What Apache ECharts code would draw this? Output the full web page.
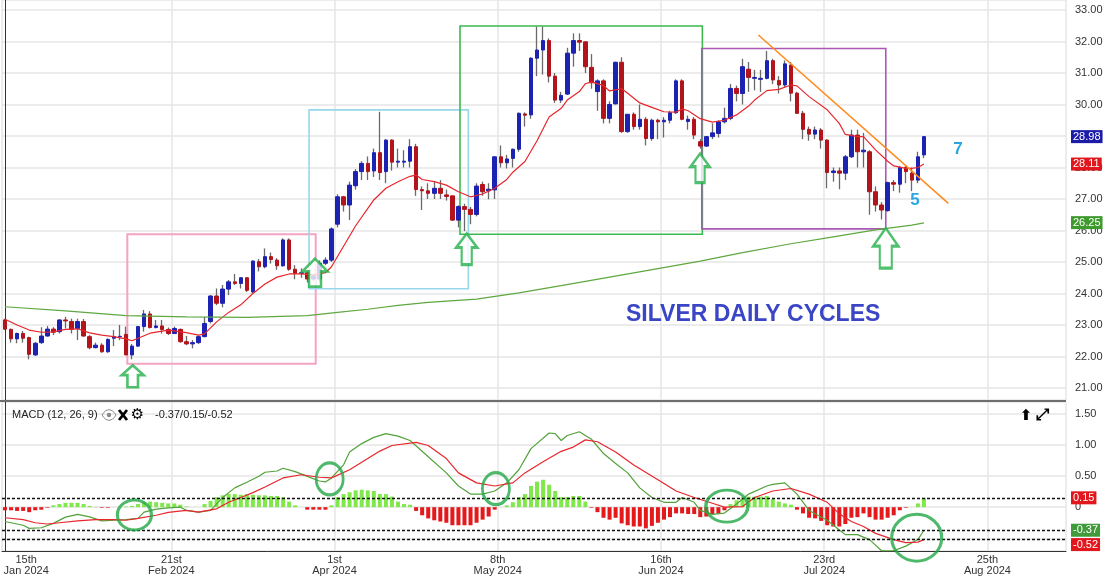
<!DOCTYPE html>
<html><head><meta charset="utf-8">
<script src="https://cdn.jsdelivr.net/npm/echarts@6.0.0/dist/echarts.min.js"></script>
<style>html,body{margin:0;padding:0;background:#fff}#c{width:1106px;height:576px}</style>
</head><body><div id="c"></div><script>
// ---------------- DATA ----------------
const slotCount = 176; // trading-day slots on the x axis (data + future space)
const xGridIdx = [0, 28, 55, 82, 109, 136, 163];
const xLabelIdx = [4, 28, 55, 82, 109, 136, 163];
const xTickLabels = ['15th\nJan 2024', '21st\nFeb 2024', '1st\nApr 2024', '8th\nMay 2024', '16th\nJun 2024', '23rd\nJul 2024', '25th\nAug 2024'];

const openP = [
23.16,22.86,22.56,22.73,22.60,22.05,22.44,22.65,22.87,22.79,
23.16,23.11,22.89,23.11,22.63,22.28,22.36,22.15,22.58,22.63,
22.70,22.05,22.33,22.95,23.35,22.92,22.97,22.86,22.73,22.86,
22.47,22.40,22.44,22.63,23.11,23.92,23.69,24.14,24.37,24.32,
24.50,24.05,25.01,24.85,25.17,25.06,24.88,25.70,24.77,24.64,
24.66,24.46,24.46,24.96,25.06,26.20,27.07,26.81,27.42,27.87,
28.13,27.89,28.47,27.87,28.87,28.17,28.17,28.20,28.66,27.30,
27.26,27.18,27.34,27.13,27.10,26.33,26.76,26.67,26.51,27.46,
27.26,27.29,28.34,28.15,28.29,28.58,29.70,29.67,31.47,31.73,
32.03,30.90,30.14,30.33,31.63,32.03,31.99,31.18,30.41,30.75,
29.56,30.02,31.34,29.14,29.69,29.30,29.53,28.92,29.50,29.45,
29.50,29.74,30.75,29.46,29.53,28.82,28.68,28.98,29.08,29.45,
29.56,30.51,30.35,31.12,30.83,30.80,30.83,31.39,30.76,30.62,
31.25,30.36,29.72,29.21,29.06,29.19,28.87,27.84,27.89,27.82,
28.34,29.03,28.50,28.50,27.23,26.81,26.63,27.52,27.47,28.00,
27.82,27.60,28.40];
const closeP = [
22.87,22.56,22.73,22.58,22.07,22.42,22.65,22.87,22.77,23.16,
23.13,22.86,23.11,22.65,22.28,22.36,22.15,22.54,22.63,22.64,
22.05,22.33,22.95,23.35,22.92,22.97,22.86,22.73,22.89,22.47,
22.40,22.44,22.63,23.05,23.92,23.69,24.14,24.37,24.32,24.50,
24.10,25.03,24.85,25.17,25.08,24.88,25.70,24.77,24.64,24.66,
24.46,24.56,24.96,25.06,26.05,27.07,26.81,27.44,27.87,28.13,
27.87,28.47,27.84,28.87,28.17,28.20,28.20,28.66,27.30,27.26,
27.18,27.34,27.18,27.08,26.33,26.76,26.67,26.51,27.41,27.23,
27.31,28.34,28.15,28.27,28.58,29.72,29.66,31.47,31.73,32.03,
30.90,30.14,30.29,31.63,32.03,31.98,31.20,30.69,30.75,29.56,
30.00,31.34,29.14,29.69,29.30,29.53,28.92,29.50,29.45,29.50,
29.74,30.75,29.53,29.53,29.03,28.68,28.98,29.10,29.45,29.56,
30.51,30.35,31.20,30.86,30.86,30.83,31.39,30.78,30.62,31.29,
30.36,29.72,29.21,29.06,29.19,28.87,27.84,27.89,27.82,28.34,
29.03,28.50,28.55,27.23,26.81,26.65,27.52,27.47,28.00,27.87,
27.60,28.34,28.98];
const lowP = [
22.84,22.44,22.42,22.44,21.91,22.02,22.40,22.63,22.68,22.73,
22.89,22.73,22.52,22.63,22.23,22.26,22.12,22.12,22.33,22.52,
22.05,21.91,22.31,22.79,22.89,22.89,22.73,22.68,22.71,22.44,
22.36,22.26,22.40,22.61,23.05,23.63,23.56,23.95,24.27,24.16,
24.05,24.00,24.70,24.80,24.95,24.75,24.85,24.72,24.45,24.50,
24.35,24.40,24.38,24.90,25.00,26.10,26.60,26.33,27.30,27.60,
27.60,27.70,27.60,27.50,27.90,28.00,28.00,28.00,27.10,26.65,
27.00,27.00,27.00,26.95,26.30,26.10,25.98,26.20,26.45,27.10,
26.99,27.00,28.00,27.97,28.00,28.50,29.30,29.55,30.90,30.95,
30.70,30.05,30.05,30.30,31.20,31.70,31.00,30.50,29.80,29.40,
29.40,30.00,29.10,29.10,29.20,29.20,28.70,28.85,28.90,28.95,
29.40,29.70,29.50,29.20,28.90,28.60,28.65,28.90,28.95,29.40,
29.50,30.10,30.00,30.40,30.45,30.40,30.80,30.65,30.35,30.55,
30.10,29.70,28.90,28.85,28.90,28.60,27.34,27.55,27.31,27.60,
28.30,28.00,28.00,26.50,26.60,26.35,26.60,27.25,27.20,27.50,
27.25,27.50,28.30];
const highP = [
23.20,22.89,22.76,22.81,22.63,22.46,22.93,22.97,22.93,23.18,
23.26,23.20,23.20,23.19,22.68,22.44,22.42,22.58,22.84,23.00,
22.95,22.40,22.97,23.48,23.44,23.16,23.16,22.92,22.95,22.89,
22.65,22.52,22.68,23.26,23.95,24.16,24.27,24.43,24.62,24.51,
24.52,25.05,25.10,25.43,25.30,25.12,25.75,25.75,24.90,24.80,
24.72,24.60,25.05,25.15,26.10,27.15,27.10,27.55,27.95,28.20,
28.35,28.60,29.77,28.90,28.90,28.60,28.55,28.90,28.75,27.40,
27.50,27.55,27.60,27.30,27.10,26.80,26.85,26.75,27.50,27.55,
27.50,28.35,28.70,28.40,28.60,29.75,29.75,31.50,32.47,32.47,
32.10,31.00,30.40,31.80,32.26,32.26,32.00,31.60,30.80,30.80,
30.10,31.36,31.50,29.70,29.75,30.00,29.60,29.55,29.55,29.60,
29.80,30.80,30.80,29.65,29.60,28.90,29.00,29.40,29.50,29.90,
30.65,30.60,31.45,31.35,31.10,31.10,31.70,31.45,30.90,31.40,
31.35,30.40,29.80,29.30,29.30,29.25,28.90,28.00,28.00,28.40,
29.20,29.20,29.10,28.55,27.40,26.90,27.55,27.60,28.05,28.05,
28.00,28.50,29.00];

// short moving average (red), read at slot positions
const maShortIdx = [0,2,4,6,8,10,12,14,16,18,20,21,22,24,27,30,32,33,35,37,39,41,43,45,47,49,51,53,54,56,58,61,63,65,67,68,69,71,73,75,77,79,81,83,84,86,88,90,92,93,95,96,97,99,100,102,103,105,107,109,111,112,113,115,117,119,121,123,124,126,128,130,131,133,136,138,139,141,142,144,146,147,149,150,151,152];
const maShortVal = [23.18,23.0,22.84,22.77,22.78,22.86,22.88,22.75,22.68,22.63,22.56,22.5,22.58,22.74,22.84,22.76,22.68,22.72,23.1,23.4,23.64,24.0,24.3,24.52,24.62,24.62,24.59,24.66,24.85,25.5,26.15,26.97,27.34,27.55,27.72,27.76,27.62,27.55,27.44,27.23,27.07,27.16,27.34,27.62,27.85,28.19,28.85,29.6,29.88,30.14,30.41,30.66,30.72,30.6,30.43,30.5,30.36,30.05,29.91,29.77,29.76,29.86,29.8,29.55,29.44,29.5,29.67,29.95,30.14,30.44,30.48,30.62,30.59,30.25,29.83,29.4,29.05,28.98,28.98,28.56,28.2,28.05,27.97,27.97,28.0,28.11];
// long moving average (green)
const maLongIdx = [0,10,20,30,40,50,55,60,65,70,78,85,92,100,108,115,122,130,137,144,150,152];
const maLongVal = [23.58,23.45,23.3,23.26,23.24,23.3,23.4,23.5,23.62,23.72,23.82,24.02,24.25,24.52,24.79,25.03,25.3,25.58,25.8,26.02,26.17,26.24];

// MACD panel
const macdIdx = [0,3,4,6,8,10,12,14,16,18,20,22,23,25,27,29,30,32,34,36,38,40,42,43,45,46,48,50,52,53,54,56,57,59,61,63,65,67,70,73,75,77,79,81,83,85,87,90,91,92,93,95,97,99,101,103,105,107,109,111,112,114,115,117,119,121,123,126,127,129,131,133,136,138,139,141,143,145,147,149,151,152];
const macdVal = [-0.23,-0.29,-0.34,-0.33,-0.26,-0.16,-0.115,-0.155,-0.22,-0.21,-0.2,-0.18,-0.08,-0.03,-0.01,0.0,-0.05,-0.08,-0.05,0.156,0.31,0.40,0.495,0.56,0.58,0.625,0.57,0.495,0.42,0.405,0.47,0.68,0.885,1.02,1.12,1.18,1.14,1.07,0.81,0.55,0.34,0.21,0.21,0.26,0.39,0.60,0.94,1.19,1.18,1.07,1.15,1.21,1.09,0.86,0.70,0.55,0.31,0.156,0.078,0.078,0.156,0.078,-0.052,-0.115,-0.094,0.052,0.21,0.34,0.365,0.39,0.21,-0.052,-0.21,-0.365,-0.44,-0.44,-0.52,-0.70,-0.70,-0.625,-0.52,-0.37];
const signalIdx = [0,3,5,7,9,12,15,18,20,22,25,27,30,32,35,37,39,41,43,46,49,52,54,57,59,62,64,68,70,73,75,78,81,84,86,89,92,94,96,98,101,104,108,111,114,117,119,122,124,127,130,133,136,138,140,142,144,147,149,151,152];
const signalVal = [-0.17,-0.2,-0.25,-0.27,-0.25,-0.22,-0.2,-0.2,-0.21,-0.18,-0.13,-0.083,-0.052,-0.078,-0.026,0.078,0.156,0.234,0.323,0.469,0.52,0.48,0.47,0.60,0.72,0.90,0.99,1.04,0.99,0.78,0.55,0.39,0.34,0.39,0.55,0.73,0.896,0.964,1.08,1.05,0.885,0.677,0.44,0.26,0.156,0.063,0.0,0.01,0.156,0.26,0.30,0.21,0.078,-0.104,-0.23,-0.31,-0.42,-0.52,-0.57,-0.56,-0.52];
const histVal = [
-0.05,-0.05,-0.06,-0.06,-0.08,-0.05,-0.04,-0.01,0.03,0.05,
0.07,0.07,0.07,0.05,0.02,0.005,-0.01,-0.01,0.0,0.0,
0.01,0.02,0.05,0.08,0.09,0.08,0.07,0.06,0.06,0.04,
0.01,0.0,0.0,0.05,0.10,0.16,0.19,0.21,0.21,0.20,
0.21,0.20,0.19,0.19,0.18,0.18,0.16,0.09,0.03,0.0,
-0.04,-0.04,-0.04,-0.04,0.03,0.16,0.21,0.24,0.27,0.28,
0.27,0.26,0.21,0.21,0.17,0.09,0.05,0.04,-0.06,-0.13,
-0.18,-0.21,-0.23,-0.25,-0.29,-0.29,-0.29,-0.29,-0.25,-0.20,
-0.15,-0.04,0.0,0.03,0.08,0.16,0.21,0.34,0.41,0.44,
0.36,0.26,0.16,0.16,0.18,0.18,0.09,-0.01,-0.08,-0.17,
-0.20,-0.17,-0.26,-0.29,-0.31,-0.31,-0.34,-0.30,-0.25,-0.20,
-0.16,-0.10,-0.10,-0.11,-0.11,-0.16,-0.15,-0.11,-0.10,-0.05,
0.05,0.11,0.16,0.17,0.17,0.17,0.18,0.13,0.09,0.06,
0.04,-0.04,-0.10,-0.17,-0.18,-0.22,-0.29,-0.31,-0.31,-0.27,
-0.17,-0.16,-0.10,-0.16,-0.20,-0.20,-0.17,-0.13,-0.05,-0.01,
0.0,0.06,0.15];

// last-value tags
const lastClose = 28.98, lastMaShort = 28.11, lastMaLong = 26.25;
const lastMacd = -0.37, lastHist = 0.15, lastSignal = -0.52;

// ---------------- CHART ----------------
const UP = '#1c22b2', DOWN = '#b3141b', WICK = '#6a6a6a';
const GRID_LINE = {color: '#e6e6e6', width: 1.5};
const FONT = '"Liberation Sans", Arial, sans-serif';
const categories = Array.from({length: slotCount}, (_, i) => String(i));

const ohlc = openP.map((o, i) => [o, closeP[i], lowP[i], highP[i]]);
const bodies = openP.map((o, i) => [o, closeP[i], Math.min(o, closeP[i]), Math.max(o, closeP[i])]);
const pairs = (ix, vals) => ix.map((x, i) => [x, vals[i]]);

function catAxis(gridIndex, showLabels) {
  return {
    type: 'category', gridIndex, data: categories, boundaryGap: true,
    axisLine: {show: showLabels, onZero: false, lineStyle: {color: '#333', width: 1}},
    axisTick: {show: false},
    axisLabel: {
      show: showLabels, interval: (i) => xLabelIdx.includes(i),
      formatter: (v, i) => { const k = xLabelIdx.indexOf(i); return k >= 0 ? xTickLabels[k] : ''; },
      color: '#333', fontSize: 11, lineHeight: 11, margin: 3, padding: [0, 6, 0, 0], fontFamily: FONT
    },
    splitLine: {show: true, interval: (i) => xGridIdx.includes(i), lineStyle: GRID_LINE}
  };
}
const tagLabel = (text, bg, extra) => Object.assign({
  show: true, position: 'end', formatter: text, color: '#fff', backgroundColor: bg,
  fontSize: 11, lineHeight: 11, padding: [1, 2, 1, 2], distance: 5, fontFamily: FONT
}, extra || {});

const arrowPath = 'path://M50,0L100,45L74,45L74,100L26,100L26,45L0,45Z';
const arrows = [
  {x: 21.12, y: 21.375, w: 22, h: 22},
  {x: 51.28, y: 24.66, w: 25, h: 28},
  {x: 76.37, y: 25.41, w: 21, h: 31},
  {x: 114.97, y: 27.98, w: 19, h: 29},
  {x: 145.69, y: 25.44, w: 25, h: 40}
];
const boxes = [
  {x1: 20.23, y1: 25.88, x2: 51.39, y2: 21.77, c: '#f5a3c3', w: 2},
  {x1: 50.29, y1: 29.83, x2: 76.64, y2: 24.15, c: '#98d6ec', w: 1.6},
  {x1: 75.26, y1: 32.49, x2: 115.35, y2: 25.88, c: '#3cba4f', w: 1.6},
  {x1: 115.25, y1: 31.78, x2: 145.69, y2: 26.05, c: '#ab58b5', w: 1.6}
];
const circles = [
  {x: 21.4, y: -0.125, w: 34, h: 30},
  {x: 53.7, y: 0.453, w: 27, h: 32},
  {x: 81.2, y: 0.297, w: 27, h: 32},
  {x: 119.4, y: 0.016, w: 42, h: 32},
  {x: 150.8, y: -0.49, w: 50, h: 47}
];

const chart = echarts.init(document.getElementById('c'), null, {renderer: 'canvas'});
chart.setOption({
  animation: false,
  backgroundColor: '#fff',
  grid: [
    {left: 2, right: 40, top: 0, height: 400},
    {left: 2, right: 40, top: 402, height: 153}
  ],
  xAxis: [
    catAxis(0, false),
    catAxis(1, true),
    {type: 'value', gridIndex: 0, min: -0.5, max: slotCount - 0.5, show: false},
    {type: 'value', gridIndex: 1, min: -0.5, max: slotCount - 0.5, show: false}
  ],
  yAxis: [
    {type: 'value', gridIndex: 0, position: 'right', min: 20.619, max: 33.3175, splitNumber: 12,
     axisLine: {show: true, lineStyle: {color: '#333'}}, axisTick: {show: false},
     axisLabel: {formatter: v => Math.abs(v - Math.round(v)) < 1e-6 ? v.toFixed(2) : '', color: '#333', fontSize: 11, margin: 9, fontFamily: FONT},
     splitLine: {lineStyle: GRID_LINE}},
    {type: 'value', gridIndex: 1, position: 'right', min: -0.703125, max: 1.6875, splitNumber: 5,
     axisLine: {show: true, lineStyle: {color: '#333'}}, axisTick: {show: false},
     axisLabel: {formatter: v => {
        if (Math.abs(v) < 1e-9) return '0';
        if (v > 0 && Math.abs(v * 2 - Math.round(v * 2)) < 1e-6 && v <= 1.5) return v.toFixed(2);
        return '';
      }, color: '#333', fontSize: 11, margin: 9, fontFamily: FONT},
     splitLine: {lineStyle: GRID_LINE}}
  ],
  series: [
    {type: 'candlestick', name: 'wick', xAxisIndex: 0, yAxisIndex: 0, data: ohlc, barWidth: 1, silent: true, z: 2,
     itemStyle: {color: WICK, color0: WICK, borderColor: WICK, borderColor0: WICK, borderWidth: 1.3},
     markLine: {silent: true, symbol: ['none', 'none'], lineStyle: {color: 'rgba(0,0,0,0)', width: 0},
       data: [
         {yAxis: lastClose, label: tagLabel(lastClose.toFixed(2), '#1b1ba8')},
         {yAxis: lastMaShort, label: tagLabel(lastMaShort.toFixed(2), '#e2161d')},
         {yAxis: lastMaLong, label: tagLabel(lastMaLong.toFixed(2), '#3f9a2e')}
       ]}},
    {type: 'candlestick', name: 'body', xAxisIndex: 0, yAxisIndex: 0, data: bodies, barWidth: 4, silent: true, z: 3,
     itemStyle: {color: UP, color0: DOWN, borderColor: UP, borderColor0: DOWN, borderWidth: 1}},
    {type: 'line', name: 'maShort', xAxisIndex: 0, yAxisIndex: 0, data: pairs(maShortIdx, maShortVal), showSymbol: false, symbol: 'none', silent: true, z: 4,
     lineStyle: {color: '#e8262c', width: 1.2}},
    {type: 'line', name: 'maLong', xAxisIndex: 0, yAxisIndex: 0, data: pairs(maLongIdx, maLongVal), showSymbol: false, symbol: 'none', silent: true, z: 4,
     lineStyle: {color: '#5ea83f', width: 1.2}},
    {type: 'scatter', name: 'arrows', xAxisIndex: 2, yAxisIndex: 0, symbol: arrowPath, clip: false, silent: true, z: 6,
     data: arrows.map(a => ({value: [a.x, a.y], symbolSize: [a.w, a.h]})),
     itemStyle: {color: '#fff', borderColor: '#22b04a', borderWidth: 2.6},
     markArea: {silent: true, label: {show: false},
       data: boxes.map(b => [{coord: [b.x1, b.y1], itemStyle: {color: 'rgba(0,0,0,0)', borderColor: b.c, borderWidth: b.w}}, {coord: [b.x2, b.y2]}])},
     markLine: {silent: true, symbol: ['none', 'none'], label: {show: false},
       lineStyle: {color: '#ff8a1c', width: 1.5, type: 'solid'},
       data: [[{coord: [124.61, 32.206]}, {coord: [156.04, 26.863]}]]}},
    {type: 'bar', name: 'hist', xAxisIndex: 1, yAxisIndex: 1, barWidth: 4, silent: true, z: 2,
     data: histVal.map(v => ({value: v, itemStyle: {color: v >= 0 ? '#80e84a' : '#e3191c'}}))},
    {type: 'line', name: 'macd', xAxisIndex: 1, yAxisIndex: 1, data: pairs(macdIdx, macdVal), showSymbol: false, symbol: 'none', silent: true, z: 4,
     lineStyle: {color: '#52a23a', width: 1.2},
     markLine: {silent: true, symbol: ['none', 'none'], lineStyle: {color: '#111', type: [3, 2], width: 1.4},
       data: [
         {yAxis: lastHist, label: tagLabel(lastHist.toFixed(2), '#e2161d')},
         {yAxis: lastMacd, label: tagLabel(lastMacd.toFixed(2), '#3f9a3a')},
         {yAxis: lastSignal, label: tagLabel(lastSignal.toFixed(2), '#e2161d', {offset: [0, 5]})}
       ]}},
    {type: 'line', name: 'signal', xAxisIndex: 1, yAxisIndex: 1, data: pairs(signalIdx, signalVal), showSymbol: false, symbol: 'none', silent: true, z: 4,
     lineStyle: {color: '#e8262c', width: 1.2}},
    {type: 'scatter', name: 'circles', xAxisIndex: 3, yAxisIndex: 1, symbol: 'circle', clip: false, silent: true, z: 6,
     data: circles.map(c => ({value: [c.x, c.y], symbolSize: [c.w, c.h]})),
     itemStyle: {color: 'rgba(0,0,0,0)', borderColor: '#22a845', borderWidth: 3}}
  ],
  graphic: [
    {type: 'line', shape: {x1: 0, y1: 401, x2: 1066, y2: 401}, style: {stroke: '#6e6e6e', lineWidth: 2}, z: 50, silent: true},
    {type: 'text', x: 626, y: 315, style: {text: 'SILVER DAILY CYCLES', font: 'bold 23px ' + FONT, fill: '#3a46c6', align: 'left', verticalAlign: 'middle'}, z: 50},
    {type: 'text', x: 958, y: 149, style: {text: '7', font: 'bold 17px ' + FONT, fill: '#2aa7e2', align: 'center', verticalAlign: 'middle'}, z: 50},
    {type: 'text', x: 915, y: 200, style: {text: '5', font: 'bold 17px ' + FONT, fill: '#2aa7e2', align: 'center', verticalAlign: 'middle'}, z: 50},
    {type: 'text', x: 12, y: 415, style: {text: 'MACD (12, 26, 9)', font: '11px ' + FONT, fill: '#222', align: 'left', verticalAlign: 'middle'}, z: 50},
    {type: 'bezierCurve', shape: {x1: 102, y1: 415, x2: 116, y2: 415, cpx1: 106, cpy1: 408, cpx2: 112, cpy2: 408}, style: {stroke: '#888', lineWidth: 1, fill: null}, z: 50},
    {type: 'bezierCurve', shape: {x1: 102, y1: 415, x2: 116, y2: 415, cpx1: 106, cpy1: 422, cpx2: 112, cpy2: 422}, style: {stroke: '#888', lineWidth: 1, fill: null}, z: 50},
    {type: 'circle', shape: {cx: 109, cy: 415, r: 2.2}, style: {fill: '#888'}, z: 50},
    {type: 'line', shape: {x1: 119, y1: 410, x2: 127, y2: 420}, style: {stroke: '#000', lineWidth: 2.8}, z: 50},
    {type: 'line', shape: {x1: 127, y1: 410, x2: 119, y2: 420}, style: {stroke: '#000', lineWidth: 2.8}, z: 50},
    {type: 'text', x: 137.5, y: 415, style: {text: '\u2699', font: 'bold 15px "DejaVu Sans"', fill: '#000', align: 'center', verticalAlign: 'middle'}, z: 50},
    {type: 'text', x: 155, y: 415, style: {text: '-0.37/0.15/-0.52', font: '11px ' + FONT, fill: '#222', align: 'left', verticalAlign: 'middle'}, z: 50},
    {type: 'text', x: 1026, y: 416, style: {text: '\u2B06', font: 'bold 15px "DejaVu Sans"', fill: '#000', align: 'center', verticalAlign: 'middle'}, z: 50},
    {type: 'text', x: 1042, y: 416, style: {text: '\u2922', font: 'bold 16px "DejaVu Sans"', fill: '#000', align: 'center', verticalAlign: 'middle'}, z: 50}
  ]
});
</script></body></html>
